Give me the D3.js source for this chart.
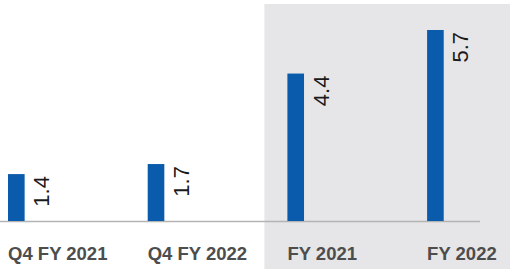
<!DOCTYPE html>
<html><head><meta charset="utf-8">
<script src="https://cdn.jsdelivr.net/npm/d3@7"></script>
<style>html,body{margin:0;padding:0;background:#fff;}svg{display:block;}</style>
</head><body>
<svg id="c" width="510" height="269"></svg>
<script>
const categories = ["Q4 FY 2021", "Q4 FY 2022", "FY 2021", "FY 2022"];
const values = [1.4, 1.7, 4.4, 5.7];
const valueLabels = ["1.4", "1.7", "4.4", "5.7"];
const shadedCategories = ["FY 2021", "FY 2022"];

const W = 510, H = 269;
const svg = d3.select("#c");
const baseY = 221;

const x = d3.scaleBand().domain(categories).range([8, 566.8]).padding(0);
const barW = x.bandwidth() * 0.119;
const y = d3.scaleLinear().domain([0, 5.7]).range([baseY, 30]);

// shaded panel behind the full-year bars
svg.append("rect")
  .attr("x", x(shadedCategories[0]) - 23)
  .attr("y", 4)
  .attr("width", W - (x(shadedCategories[0]) - 23))
  .attr("height", H - 4)
  .attr("fill", "#e6e6e8");

// baseline
svg.append("line")
  .attr("x1", 0).attr("x2", 480)
  .attr("y1", baseY + 0.5).attr("y2", baseY + 0.5)
  .attr("stroke", "#b3b3b3").attr("stroke-width", 1.5);

// bars
svg.selectAll("rect.bar").data(categories).join("rect")
  .attr("class", "bar")
  .attr("x", d => x(d))
  .attr("width", barW)
  .attr("y", (d, i) => y(values[i]))
  .attr("height", (d, i) => baseY - y(values[i]))
  .attr("fill", "#0a5bab");

// value labels (rotated)
svg.selectAll("text.val").data(categories).join("text")
  .attr("class", "val")
  .attr("transform", (d, i) => `translate(${x(d) + barW + 24.5},${y(values[i]) + 2}) rotate(-90)`)
  .attr("text-anchor", "end")
  .attr("font-family", "Liberation Sans, Arial, sans-serif")
  .attr("font-size", 22)
  .attr("fill", "#1a1a1a")
  .text((d, i) => valueLabels[i]);

// category axis
const axis = d3.axisBottom(x).tickSize(0).tickPadding(0);
const g = svg.append("g").attr("transform", `translate(0,${baseY})`).call(axis);
g.select(".domain").remove();
g.selectAll(".tick text")
  .attr("x", -x.bandwidth() / 2)
  .attr("dy", 0)
  .attr("y", 39)
  .attr("text-anchor", "start")
  .attr("font-family", "Liberation Sans, Arial, sans-serif")
  .attr("font-weight", "bold")
  .attr("font-size", 18.5)
  .attr("fill", "#4d4d4d");
</script>
</body></html>
